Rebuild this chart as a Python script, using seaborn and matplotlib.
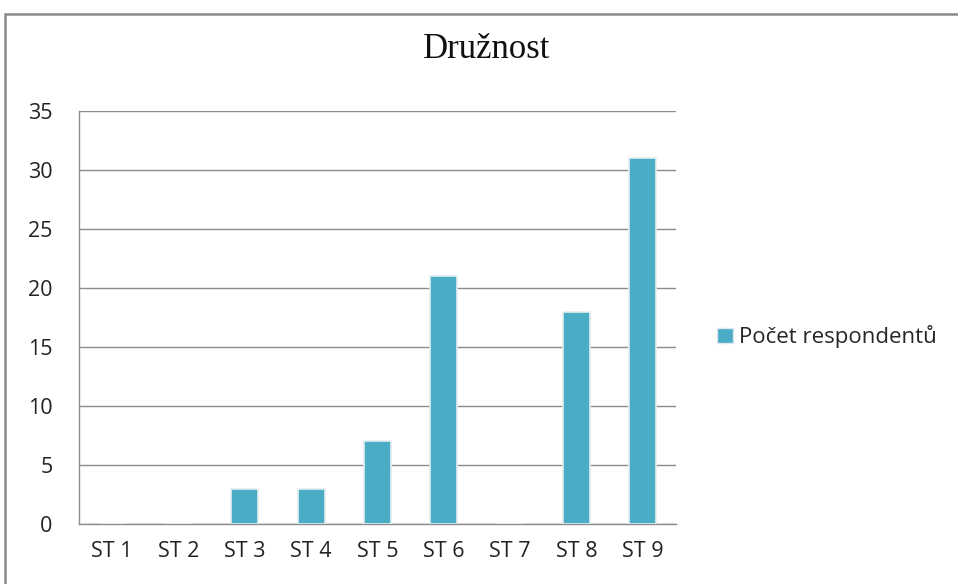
import matplotlib
matplotlib.use("Agg")
import matplotlib.pyplot as plt
import seaborn as sns
import pandas as pd
from matplotlib.patches import Rectangle, Patch

categories = ["ST1", "ST2", "ST3", "ST4", "ST5", "ST6", "ST7", "ST8", "ST9"]
tick_labels = ["ST 1", "ST 2", "ST 3", "ST 4", "ST 5", "ST 6", "ST 7", "ST 8", "ST 9"]
respondents = [0, 0, 3, 3, 7, 21, 0, 18, 31]
series_name = "Počet respondentů"
title = "Družnost"

df = pd.DataFrame({"kategorie": categories, "pocet": respondents})

sns.set_style("white")
plt.rcParams["font.family"] = ["Open Sans", "DejaVu Sans"]

fig = plt.figure(figsize=(9.58, 5.84), dpi=100)
ax = fig.add_axes([0.0825, 0.1027, 0.623, 0.7073])

bar_color = "#4BACC6"
sns.barplot(data=df, x="kategorie", y="pocet", color=bar_color, width=0.41,
            edgecolor="#e4eef1", linewidth=1.2, ax=ax, zorder=3, saturation=1)

ax.set_ylim(0, 35)
ax.set_yticks(range(0, 36, 5))
ax.set_xlim(-0.5, 8.5)
ax.set_xticks(range(len(categories)))
ax.set_xticklabels(tick_labels)
ax.set_xlabel("")
ax.set_ylabel("")
ax.yaxis.grid(True, color="#8c8c8c", linewidth=1.0, zorder=0)
ax.tick_params(axis="both", labelsize=15.5, colors="#222222", length=0)
ax.tick_params(axis="y", pad=19)
ax.tick_params(axis="x", pad=12)

for side in ["top", "right"]:
    ax.spines[side].set_visible(False)
for side in ["left", "bottom"]:
    ax.spines[side].set_color("#8c8c8c")
    ax.spines[side].set_linewidth(1.0)

fig.text(0.508, 0.915, title, ha="center", va="center", fontsize=25,
         family=["Liberation Serif", "DejaVu Serif"], color="#111111")

handle = Patch(facecolor=bar_color, edgecolor="#d8e8ee", label=series_name)
fig.legend(handles=[handle], loc="center left", bbox_to_anchor=(0.737, 0.423),
           frameon=False, fontsize=16, handlelength=0.7, handleheight=0.7,
           handletextpad=0.3, borderpad=0)

# outer chart frame (only left and top visible in the crop)
fig.add_artist(Rectangle((0.005, -0.05), 1.2, 1.026, transform=fig.transFigure,
                         fill=False, edgecolor="#8a8a8a", linewidth=1.8))

fig.savefig("out.png", dpi=100)
